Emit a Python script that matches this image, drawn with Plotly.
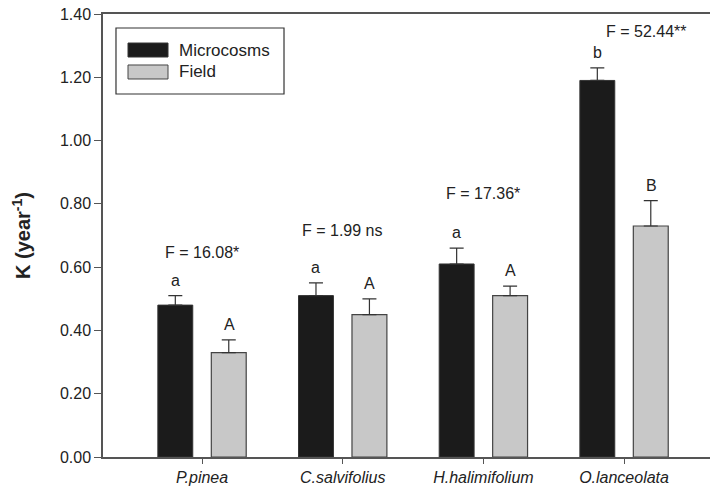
import plotly.graph_objects as go

species = ["P.pinea", "C.salvifolius", "H.halimifolium", "O.lanceolata"]
micro_k = [0.48, 0.51, 0.61, 1.19]
micro_se = [0.03, 0.04, 0.05, 0.04]
field_k = [0.33, 0.45, 0.51, 0.73]
field_se = [0.04, 0.05, 0.03, 0.08]
micro_letters = ["a", "a", "a", "b"]
field_letters = ["A", "A", "A", "B"]
f_labels = ["F = 16.08*", "F = 1.99 ns", "F = 17.36*", "F = 52.44**"]
f_label_y = [0.645, 0.717, 0.834, 1.346]
f_label_xshift = [0, 0, 0, 22]
y_ticks = [0.0, 0.2, 0.4, 0.6, 0.8, 1.0, 1.2, 1.4]

FONT = "Liberation Sans, Arial, sans-serif"
TXT = "#222222"
LINE = "#555555"
BAR_OFF = 27  # px offset of each bar from group center

fig = go.Figure()
fig.add_trace(go.Bar(
    x=species, y=micro_k, name="Microcosms",
    marker=dict(color="#1b1b1b", line=dict(color="#333333", width=1)),
    error_y=dict(type="data", symmetric=False, array=micro_se,
                 arrayminus=[0] * len(micro_se), color="#333333",
                 thickness=1.2, width=7),
))
fig.add_trace(go.Bar(
    x=species, y=field_k, name="Field",
    marker=dict(color="#c8c8c8", line=dict(color="#444444", width=1.2)),
    error_y=dict(type="data", symmetric=False, array=field_se,
                 arrayminus=[0] * len(field_se), color="#333333",
                 thickness=1.2, width=7),
))

annotations = []
for i, sp in enumerate(species):
    annotations.append(dict(x=sp, y=micro_k[i] + micro_se[i], xref="x", yref="y",
                            text=micro_letters[i], showarrow=False, yanchor="bottom",
                            xshift=-BAR_OFF, yshift=5,
                            font=dict(family=FONT, size=16, color=TXT)))
    annotations.append(dict(x=sp, y=field_k[i] + field_se[i], xref="x", yref="y",
                            text=field_letters[i], showarrow=False, yanchor="bottom",
                            xshift=BAR_OFF, yshift=5,
                            font=dict(family=FONT, size=16, color=TXT)))
    annotations.append(dict(x=sp, y=f_label_y[i], xref="x", yref="y",
                            text=f_labels[i], showarrow=False, yanchor="middle",
                            xshift=f_label_xshift[i],
                            font=dict(family=FONT, size=16, color=TXT)))

# custom legend (paper coordinates)
shapes = [
    dict(type="rect", xref="paper", yref="paper", x0=0.0214, x1=0.2982, y0=0.8194, y1=0.9684,
         line=dict(color="#333333", width=1.2), fillcolor="white"),
    dict(type="rect", xref="paper", yref="paper", x0=0.0412, x1=0.1071, y0=0.9029, y1=0.9345,
         line=dict(color="#333333", width=1), fillcolor="#1b1b1b"),
    dict(type="rect", xref="paper", yref="paper", x0=0.0412, x1=0.1071, y0=0.8533, y1=0.8849,
         line=dict(color="#444444", width=1), fillcolor="#c8c8c8"),
]
for name, yy in [("Microcosms", 0.9187), ("Field", 0.8691)]:
    annotations.append(dict(x=0.1219, y=yy, xref="paper", yref="paper", text=name,
                            showarrow=False, xanchor="left", yanchor="middle",
                            font=dict(family=FONT, size=17, color=TXT)))

fig.update_layout(
    width=710, height=491,
    margin=dict(l=103, r=0, t=14, b=34),
    paper_bgcolor="white", plot_bgcolor="white",
    barmode="group", bargap=0.24, bargroupgap=0.347,
    showlegend=False,
    font=dict(family=FONT, size=16, color=TXT),
    annotations=annotations, shapes=shapes,
    xaxis=dict(
        range=[-0.704, 3.611], showgrid=False, zeroline=False,
        showline=True, linecolor=LINE, linewidth=1.5, mirror=True,
        ticks="outside", ticklen=5, tickcolor=LINE, tickwidth=1.2,
        tickfont=dict(family=FONT, size=16, color=TXT),
        tickvals=species, ticktext=["<i>%s</i>" % s for s in species],
    ),
    yaxis=dict(
        range=[0, 1.4], showgrid=False, zeroline=False,
        showline=True, linecolor=LINE, linewidth=1.5,
        ticks="outside", ticklen=7, tickcolor=LINE, tickwidth=1.2,
        tickvals=y_ticks, ticktext=["%.2f" % v for v in y_ticks],
        tickfont=dict(family=FONT, size=16, color=TXT),
        title=dict(text="<b>K (year<sup>-1</sup>)</b>", standoff=24,
                   font=dict(family=FONT, size=20, color=TXT)),
    ),
)

fig.write_html("out.html")
